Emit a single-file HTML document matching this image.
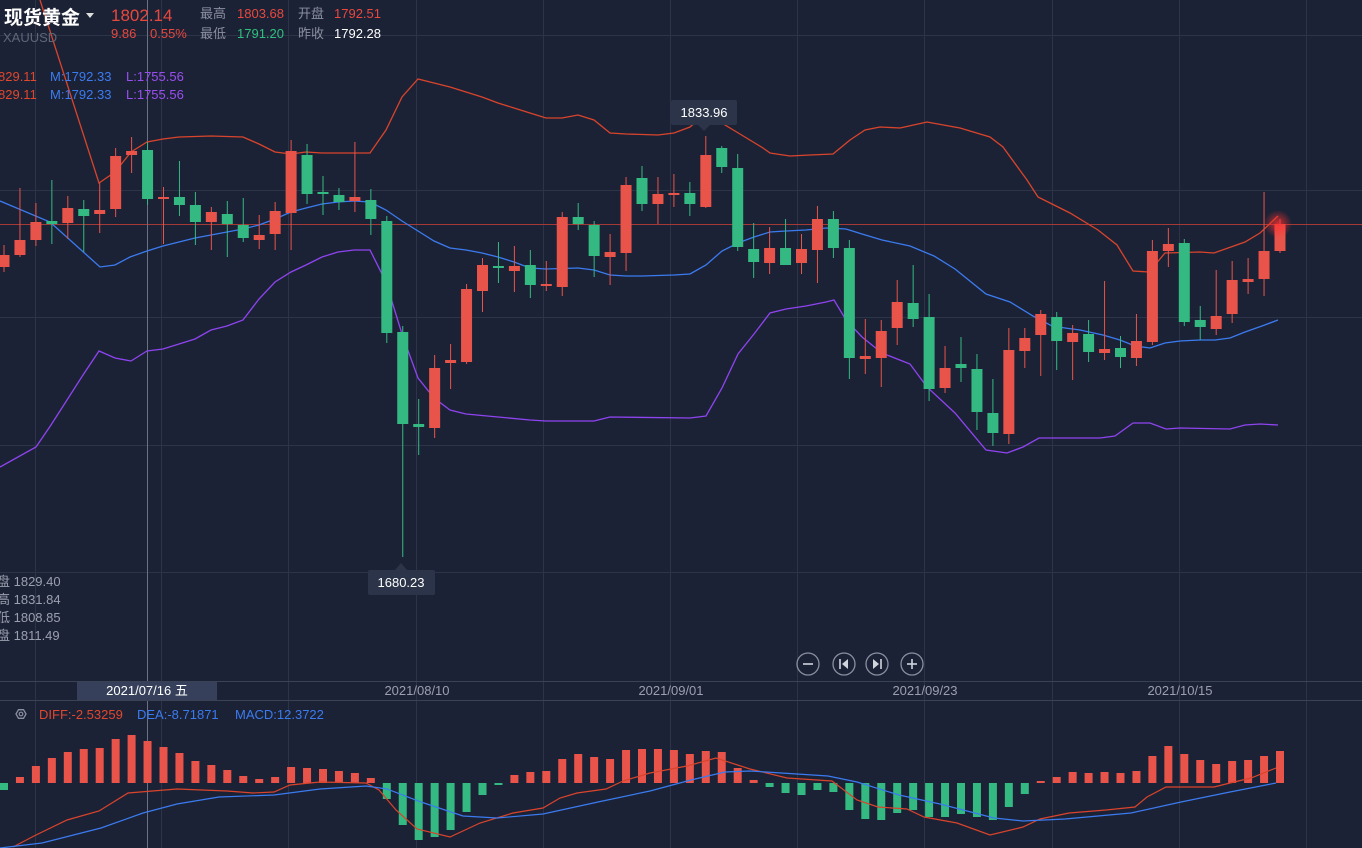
<!DOCTYPE html>
<html><head><meta charset="utf-8">
<style>
html,body{margin:0;padding:0;background:#1c2235;width:1362px;height:848px;overflow:hidden}
svg{display:block}
text{font-family:"Liberation Sans","Noto Sans CJK SC",sans-serif}
</style></head><body>
<svg id="s" width="1362" height="848" xmlns="http://www.w3.org/2000/svg">
<rect width="1362" height="848" fill="#1c2235"/>
<g id="grid" stroke="#2d3447" stroke-width="1"></g>
<line x1="0" y1="224.5" x2="1362" y2="224.5" stroke="#a33a36" stroke-width="1"/>
<line x1="147.5" y1="0" x2="147.5" y2="848" stroke="#6a7182" stroke-width="1"/>
<g id="bands" fill="none" stroke-width="1.3"></g>
<g id="candles"></g>
<g id="macd"></g>
<radialGradient id="gl"><stop offset="0" stop-color="#ff3030" stop-opacity="0.8"/><stop offset="1" stop-color="#ff3030" stop-opacity="0"/></radialGradient>
<circle cx="1278" cy="224" r="14" fill="url(#gl)"/>
<!-- header -->
<text x="4" y="24" font-size="19" fill="#ffffff" font-weight="bold">现货黄金</text>
<path d="M86 13 L94 13 L90 18 Z" fill="#ddd"/>
<text x="111" y="21" font-size="17" fill="#e8483e">1802.14</text>
<text x="200" y="18" font-size="13" fill="#8a90a0">最高</text>
<text x="237" y="18" font-size="13" fill="#e8483e">1803.68</text>
<text x="298" y="18" font-size="13" fill="#8a90a0">开盘</text>
<text x="334" y="18" font-size="13" fill="#e8483e">1792.51</text>
<text x="111" y="38" font-size="13" fill="#e8483e">9.86</text>
<text x="150" y="38" font-size="13" fill="#e8483e">0.55%</text>
<text x="200" y="38" font-size="13" fill="#8a90a0">最低</text>
<text x="237" y="38" font-size="13" fill="#2fc07f">1791.20</text>
<text x="298" y="38" font-size="13" fill="#8a90a0">昨收</text>
<text x="334" y="38" font-size="13" fill="#ffffff">1792.28</text>
<text x="3" y="42" font-size="13" fill="#5f6678">XAUUSD</text>
<text x="-2" y="81" font-size="13" fill="#e0472e">829.11</text>
<text x="50" y="81" font-size="13" fill="#3b7bf0">M:1792.33</text>
<text x="126" y="81" font-size="13" fill="#9a4ef2">L:1755.56</text>
<text x="-2" y="99" font-size="13" fill="#e0472e">829.11</text>
<text x="50" y="99" font-size="13" fill="#3b7bf0">M:1792.33</text>
<text x="126" y="99" font-size="13" fill="#9a4ef2">L:1755.56</text>
<text x="-3" y="586" font-size="13" fill="#9aa0ae">盘 1829.40</text>
<text x="-3" y="604" font-size="13" fill="#9aa0ae">高 1831.84</text>
<text x="-3" y="622" font-size="13" fill="#9aa0ae">低 1808.85</text>
<text x="-3" y="640" font-size="13" fill="#9aa0ae">盘 1811.49</text>
<!-- price labels -->
<rect x="671" y="100" width="66" height="25" rx="2" fill="#2c3449"/>
<path d="M698 125 L704 131 L710 125 Z" fill="#2c3449"/>
<text x="704" y="117" font-size="13" fill="#ffffff" text-anchor="middle">1833.96</text>
<rect x="368" y="570" width="67" height="25" rx="2" fill="#2c3449"/>
<path d="M395 570 L401 563 L407 570 Z" fill="#2c3449"/>
<text x="401" y="587" font-size="13" fill="#ffffff" text-anchor="middle">1680.23</text>
<!-- buttons -->
<g fill="none" stroke="#8a90a0" stroke-width="1.3">
<circle cx="808" cy="664" r="11"/><circle cx="844" cy="664" r="11"/><circle cx="877" cy="664" r="11"/><circle cx="912" cy="664" r="11"/>
</g>
<g fill="#d0d4dc" stroke="#d0d4dc" stroke-width="1.6">
<line x1="803" y1="664" x2="813" y2="664"/>
<line x1="907" y1="664" x2="917" y2="664"/><line x1="912" y1="659" x2="912" y2="669"/>
<line x1="840" y1="659" x2="840" y2="669"/><path d="M848 659 L842 664 L848 669 Z" stroke="none"/>
<line x1="881" y1="659" x2="881" y2="669"/><path d="M873 659 L879 664 L873 669 Z" stroke="none"/>
</g>
<!-- date axis -->
<line x1="0" y1="681.5" x2="1362" y2="681.5" stroke="#3a4256"/>
<line x1="0" y1="700.5" x2="1362" y2="700.5" stroke="#3a4256"/>
<g font-size="13" fill="#9aa0ae" text-anchor="middle">
<text x="417" y="695">2021/08/10</text>
<text x="671" y="695">2021/09/01</text>
<text x="925" y="695">2021/09/23</text>
<text x="1180" y="695">2021/10/15</text>
</g>
<rect x="77" y="682" width="140" height="18" fill="#36405a"/>
<text x="147" y="695" font-size="13" fill="#ffffff" text-anchor="middle">2021/07/16 五</text>
<!-- macd legend -->
<path d="M16 714 L18.5 709.7 L23.5 709.7 L26 714 L23.5 718.3 L18.5 718.3 Z" fill="none" stroke="#8a90a0" stroke-width="1.3"/>
<circle cx="21" cy="714" r="1.8" fill="none" stroke="#8a90a0" stroke-width="1.2"/>
<text x="39" y="719" font-size="13" fill="#e0472e">DIFF:-2.53259</text>
<text x="137" y="719" font-size="13" fill="#3b7bf0">DEA:-8.71871</text>
<text x="235" y="719" font-size="13" fill="#3b7bf0">MACD:12.3722</text>
</svg>
<script>
var NS="http://www.w3.org/2000/svg";
function el(p,t,a){var e=document.createElementNS(NS,t);for(var k in a)e.setAttribute(k,a[k]);p.appendChild(e);return e;}
var g=document.getElementById('grid');
[35,161,288,416,543,670,797,924,1052,1179,1306].forEach(function(x){el(g,'line',{x1:x+.5,y1:0,x2:x+.5,y2:848});});
[35,190,317,445,572].forEach(function(y){el(g,'line',{x1:0,y1:y+.5,x2:1362,y2:y+.5});});
var R="#e8534a",G="#33b981";
var C=[
['r',245,272,255,267],['r',188,257,240,255],['r',203,246,222,240],['g',180,244,221,224],['r',196,239,208,223],
['g',200,252,209,216],['r',183,233,210,214],['r',148,217,156,209],['r',137,173,151,155],['g',142,205,150,199],
['r',187,244,197,198],['g',161,216,197,205],['g',192,245,205,222],['r',207,250,212,222],['g',201,257,214,224],
['g',198,242,225,238],['r',215,249,235,240],['r',202,250,211,234],['r',140,250,151,213],['g',144,204,155,194],
['g',176,215,192,194],['g',188,210,195,202],['r',142,212,197,201],['g',189,235,200,219],['g',216,343,221,333],
['g',326,557,332,424],['g',399,455,424,427],['r',355,438,368,428],['r',344,389,360,363],['r',284,364,289,362],
['r',258,312,265,291],['g',242,283,266,268],['r',246,292,266,271],['g',250,298,265,285],['r',261,291,284,286],
['r',212,296,217,287],['g',203,230,217,224],['g',221,277,225,256],['r',234,285,252,257],['r',177,271,185,253],
['g',166,211,178,204],['r',177,224,194,204],['r',174,207,193,195],['g',182,216,193,204],['r',136,208,155,207],
['g',146,173,148,167],['g',154,251,168,247],['g',223,278,249,262],['r',227,274,248,263],['g',219,265,248,265],
['r',234,274,249,263],['r',206,283,219,250],['g',211,258,219,248],['g',240,379,248,358],['r',319,374,356,359],
['r',320,387,331,358],['r',280,345,302,328],['g',265,327,303,319],['g',294,401,317,389],['r',346,393,368,388],
['g',337,382,364,368],['g',354,430,369,412],['g',379,446,413,433],['r',328,444,350,434],['r',328,368,338,351],
['r',310,376,314,335],['g',312,370,317,341],['r',325,380,333,342],['g',320,362,334,352],['r',281,360,349,353],
['g',336,368,348,357],['r',314,366,341,358],['r',240,345,251,342],['r',228,267,244,251],['g',239,326,243,322],
['g',306,340,320,327],['r',270,335,316,329],['r',261,323,280,314],['r',258,294,279,282],['r',192,296,251,279],
['r',219,253,224,251]];
var cg=document.getElementById('candles');
C.forEach(function(c,i){var x=4+15.95*i,col=c[0]=='r'?R:G;
el(cg,'line',{x1:x,y1:c[1],x2:x,y2:c[2],stroke:col,'stroke-width':1});
el(cg,'rect',{x:x-5.5,y:c[3],width:11,height:Math.max(2,c[4]-c[3]),fill:col});});
function pl(p,pts,col){el(document.getElementById('bands'),'polyline',{points:pts,stroke:col});}
pl(0,"40,0 99,183 115,172 131,152 147,142 163,139 179,137 211,136 243,137 259,144 275,152 291,154 306,152 322,153 370,153 386,130 402,97 418,79 434,83 450,87 466,92 482,97 498,103 514,108 530,113 546,118 562,118 578,115 594,120 610,133 626,134 658,135 674,133 690,127 704,115 720,122 735,131 763,148 770,153 790,156 810,155 833,154 850,140 865,130 880,127 900,128 927,122 960,128 990,137 1003,147 1027,180 1038,197 1070,213 1098,230 1117,245 1133,271 1149,272 1165,253 1200,252 1214,253 1245,242 1260,233 1278,216","#d9442c");
pl(0,"0,201 50,222 100,267 115,265 130,257 147,251 163,246 195,238 211,235 243,229 259,225 275,219 291,212 306,208 322,204 338,202 354,201 370,202 386,210 402,221 418,231 434,241 450,248 466,250 482,253 498,257 514,262 530,268 546,269 578,268 594,270 610,275 626,276 642,276 674,275 690,274 706,265 722,251 738,243 754,237 770,232 786,231 806,230 826,228 846,229 862,234 882,240 910,246 934,256 955,269 986,294 1010,302 1033,316 1052,326 1065,328 1080,330 1103,335 1120,340 1135,346 1150,348 1165,343 1180,341 1200,340 1215,340 1230,338 1245,332 1262,326 1278,320","#3b7bf0");
pl(0,"0,467 36,447 51,425 83,375 99,351 115,358 131,361 147,351 163,349 179,344 195,339 211,330 227,326 243,320 259,299 275,282 291,272 306,265 322,257 338,252 354,250 370,250 386,282 402,334 418,378 434,398 450,410 466,414 498,417 530,420 546,421 594,421 610,417 690,418 706,416 722,388 738,354 754,334 770,313 786,309 806,306 826,302 834,300 846,320 862,337 882,353 910,364 927,387 955,413 986,450 1007,453 1023,447 1039,438 1100,438 1115,436 1133,423 1150,423 1166,429 1180,428 1230,429 1245,425 1260,424 1278,425","#8e44f0");
var M=[790,777,766,758,752,749,748,739,735,741,747,753,761,765,770,776,779,777,767,768,769,771,773,778,799,825,840,837,830,812,795,785,775,772,771,759,754,757,759,750,749,749,750,754,751,752,768,780,787,793,795,790,792,810,819,820,813,810,817,817,814,817,820,807,794,781,777,772,773,772,773,771,756,746,754,760,764,761,760,756,751];
var mg=document.getElementById('macd'),Z=783;
M.forEach(function(v,i){var x=4+15.95*i;var up=v<Z;
el(mg,'rect',{x:x-4,y:Math.min(v,Z),width:8,height:Math.max(1,Math.abs(v-Z)),fill:(up?R:G)});});
el(mg,'polyline',{points:"13,847 34,836 67,820 99,811 128,793 177,789 227,791 253,793 274,792 290,785 320,782 366,783 379,790 396,810 417,829 450,837 480,823 513,813 543,808 560,798 577,793 606,789 623,781 650,773 687,766 716,758 750,769 787,778 832,781 857,800 878,807 907,809 924,817 957,823 990,835 1023,827 1040,819 1069,813 1106,810 1135,807 1147,797 1166,787 1214,787 1230,783 1251,778 1276,768",fill:'none',stroke:'#d9442c','stroke-width':1.2});
el(mg,'polyline',{points:"0,848 42,843 101,828 143,813 177,804 219,797 274,795 320,789 366,786 387,789 421,802 463,816 497,818 543,814 598,802 650,791 691,780 725,772 750,771 828,776 857,782 899,795 940,804 994,818 1023,821 1065,819 1131,813 1181,802 1230,792 1276,783",fill:'none',stroke:'#3b7bf0','stroke-width':1.2});
</script>
</body></html>
